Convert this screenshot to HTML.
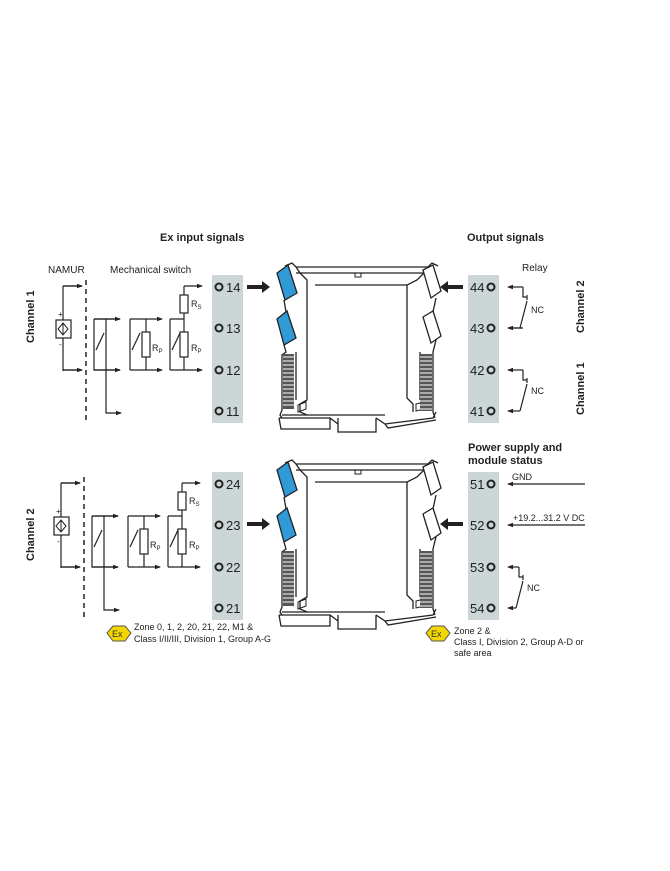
<!DOCTYPE html>
<html><head><meta charset="utf-8"><style>
html,body{margin:0;padding:0;background:#fff}
svg{display:block}
text{font-family:"Liberation Sans",Arial,sans-serif;fill:#222}
</style></head><body>
<svg width="670" height="871" viewBox="0 0 670 871" xmlns="http://www.w3.org/2000/svg">
<defs>
<marker id="a" markerWidth="6" markerHeight="6" refX="5" refY="3" orient="auto" markerUnits="userSpaceOnUse"><path d="M0,0.8 L6,3 L0,5.2z" fill="#222"/></marker>
<g id="mod" fill="none" stroke="#222" stroke-width="1.3">
  <!-- top rail -->
  <path d="M285,266 L292,263 L296,267 L428,267 L432,263 L438,266 M296,273 L428,273 M296,267 L300,273 M428,267 L424,273"/>
  <path d="M355,273 L355,277 L361,277 L361,273" stroke-width="1"/>
  <!-- body walls -->
  <path d="M300,273 L307,280 L307,400 L300,404 L300,412 L307,415 M424,273 L417,280 L407,285 L407,398 L413,404 L413,412"/>
  <path d="M407,285 L315,285"/>
  <!-- outer left -->
  <path d="M284,300 L286,312 M284,345 L286,352 L282,355 L282,410 L280,415 L282,418 M296,352 L296,400"/>
  <!-- outer right -->
  <path d="M436,298 L433,312 M436,340 L433,352 L433,412 L435,418 M420,352 L420,400"/>
  <!-- base -->
  <path d="M282,415 L385,415 M279,418 L330,418 L330,429 L281,429 L279,418 M338,418 L338,432 L376,432 L376,418 M330,418 L338,424 M376,418 L385,424 L433,418 L436,412 M385,424 L388,428 L436,420"/>
  <path d="M298,405 L306,402 L306,409 L298,412z M416,404 L424,402 L424,409 L416,411z" stroke-width="1"/>
  <!-- springs -->
  <rect x="283" y="354" width="11" height="55" fill="#555" stroke="none"/>
  <rect x="420" y="354" width="12" height="57" fill="#555" stroke="none"/>
  <path d="M283,357 h11 M283,361 h11 M283,365 h11 M283,369 h11 M283,373 h11 M283,377 h11 M283,381 h11 M283,385 h11 M283,389 h11 M283,393 h11 M283,397 h11 M283,401 h11 M283,405 h11 M420,357 h12 M420,361 h12 M420,365 h12 M420,369 h12 M420,373 h12 M420,377 h12 M420,381 h12 M420,385 h12 M420,389 h12 M420,393 h12 M420,397 h12 M420,401 h12 M420,405 h12 M420,409 h12" stroke="#ddd" stroke-width="1.2"/>
  <!-- right white tabs -->
  <path d="M423,270 L433,265 L441,291 L431,298 Z M423,317 L433,311 L441,336 L431,343 Z" fill="#fff"/>
  <!-- blue tabs -->
  <path d="M277,273 L288,265 L297,293 L285,300 Z M277,319 L287,311 L296,338 L284,345 Z" fill="#2f9ad6"/>
</g>
<g id="term" font-size="13">
  <rect x="212" y="275" width="31" height="148" fill="#cdd6d6"/>
  <circle cx="219" cy="287" r="3.5" fill="none" stroke="#222" stroke-width="2"/>
  <circle cx="219" cy="328" r="3.5" fill="none" stroke="#222" stroke-width="2"/>
  <circle cx="219" cy="370" r="3.5" fill="none" stroke="#222" stroke-width="2"/>
  <circle cx="219" cy="411" r="3.5" fill="none" stroke="#222" stroke-width="2"/>
  <rect x="468" y="275" width="31" height="148" fill="#cdd6d6"/>
  <circle cx="491" cy="287" r="3.5" fill="none" stroke="#222" stroke-width="2"/>
  <circle cx="491" cy="328" r="3.5" fill="none" stroke="#222" stroke-width="2"/>
  <circle cx="491" cy="370" r="3.5" fill="none" stroke="#222" stroke-width="2"/>
  <circle cx="491" cy="411" r="3.5" fill="none" stroke="#222" stroke-width="2"/>
</g>
<g id="inp" fill="none" stroke="#222" stroke-width="1.2">
  <path d="M63,286 L63,371 M63,286 L82,286 M63,370 L82,370" />
  <path d="M63,286 L82,286" marker-end="url(#a)"/>
  <path d="M63,370 L82,370" marker-end="url(#a)"/>
  <rect x="56" y="320" width="15" height="18" fill="#fff"/>
  <path d="M63,323 L68,329 L63,335 L58,329Z M63,323 L63,335" stroke-width="1"/>
  <path d="M86,280 L86,420" stroke-dasharray="5,4" stroke-width="1.5"/>
  <!-- switch 1 -->
  <path d="M94,319 L94,370 L120,370 M94,319 L120,319 M106,319 L106,413 L121,413" marker-end="url(#a)"/>
  <path d="M94,319 L120,319" marker-end="url(#a)"/>
  <path d="M94,370 L120,370" marker-end="url(#a)"/>
  <path d="M96,350 L104,333"/>
  <!-- switch 2 -->
  <path d="M130,319 L130,370 M146,319 L146,370 M130,319 L162,319" marker-end="url(#a)"/>
  <path d="M130,370 L162,370" marker-end="url(#a)"/>
  <path d="M132,350 L140,333"/>
  <rect x="142" y="332" width="8" height="25" fill="#fff"/>
  <!-- switch 3 -->
  <path d="M170,319 L170,370 M184,286 L184,370 M170,319 L184,319"/>
  <path d="M184,286 L202,286" marker-end="url(#a)"/>
  <path d="M170,370 L202,370" marker-end="url(#a)"/>
  <path d="M172,350 L180,333"/>
  <rect x="180" y="295" width="8" height="18" fill="#fff"/>
  <rect x="180" y="332" width="8" height="25" fill="#fff"/>
</g>
<g id="inpt" font-size="9">
  <text x="58" y="317" font-size="8">+</text>
  <text x="59" y="347" font-size="8">-</text>
  <text x="152" y="351">R<tspan font-size="6" dy="2">P</tspan></text>
  <text x="191" y="351">R<tspan font-size="6" dy="2">P</tspan></text>
  <text x="191" y="307">R<tspan font-size="6" dy="2">S</tspan></text>
</g>
</defs>

<text x="160" y="241" font-size="11" font-weight="bold">Ex input signals</text>
<text x="467" y="241" font-size="11" font-weight="bold">Output signals</text>
<text x="48" y="273" font-size="10">NAMUR</text>
<text x="110" y="273" font-size="10">Mechanical switch</text>
<text x="522" y="271" font-size="10">Relay</text>

<use href="#mod"/>
<use href="#mod" transform="translate(0,197)"/>
<use href="#term"/>
<use href="#term" transform="translate(0,197)"/>
<use href="#inp"/>
<use href="#inp" transform="translate(-2,197)"/>
<use href="#inpt"/>
<use href="#inpt" transform="translate(-2,197)"/>

<g font-size="13">
<text x="226" y="292">14</text><text x="226" y="333">13</text><text x="226" y="375">12</text><text x="226" y="416">11</text>
<text x="226" y="489">24</text><text x="226" y="530">23</text><text x="226" y="572">22</text><text x="226" y="613">21</text>
<text x="470" y="292">44</text><text x="470" y="333">43</text><text x="470" y="375">42</text><text x="470" y="416">41</text>
<text x="470" y="489">51</text><text x="470" y="530">52</text><text x="470" y="572">53</text><text x="470" y="613">54</text>
</g>

<!-- thick arrows -->
<g fill="#222">
<path d="M247,285 L262,285 L262,281 L270,287 L262,293 L262,289 L247,289z"/>
<path d="M247,522 L262,522 L262,518 L270,524 L262,530 L262,526 L247,526z"/>
<path d="M463,285 L448,285 L448,281 L440,287 L448,293 L448,289 L463,289z"/>
<path d="M463,522 L448,522 L448,518 L440,524 L448,530 L448,526 L463,526z"/>
</g>

<!-- relays -->
<g fill="none" stroke="#222" stroke-width="1.2">
<path d="M523,287 L523,297 L527,297 M527,295 L527,300 M527,301 L520,328 L523,328 L508,328" />
<path d="M523,287 L508,287" marker-end="url(#a)"/>
<path d="M522,328 L508,328" marker-end="url(#a)"/>
<path d="M523,370 L523,380 L527,380 M527,378 L527,383 M527,384 L520,411" />
<path d="M523,370 L508,370" marker-end="url(#a)"/>
<path d="M520,411 L508,411" marker-end="url(#a)"/>
<path d="M519,567 L519,577 L523,577 M523,575 L523,580 M523,581 L516,608" />
<path d="M519,567 L508,567" marker-end="url(#a)"/>
<path d="M516,608 L508,608" marker-end="url(#a)"/>
<path d="M585,484 L508,484" marker-end="url(#a)"/>
<path d="M585,525 L508,525" marker-end="url(#a)"/>
</g>
<g font-size="9">
<text x="531" y="313">NC</text>
<text x="531" y="394">NC</text>
<text x="527" y="591">NC</text>
<text x="512" y="480">GND</text>
<text x="513" y="521">+19.2...31.2 V DC</text>
</g>
<text x="468" y="451" font-size="11" font-weight="bold">Power supply and</text>
<text x="468" y="464" font-size="11" font-weight="bold">module status</text>

<g font-size="11" font-weight="bold">
<text transform="translate(34,343) rotate(-90)">Channel 1</text>
<text transform="translate(34,561) rotate(-90)">Channel 2</text>
<text transform="translate(584,333) rotate(-90)">Channel 2</text>
<text transform="translate(584,415) rotate(-90)">Channel 1</text>
</g>

<!-- Ex symbols -->
<g>
<path d="M113,626 L125,626 L131,633 L125,641 L113,641 L107,633Z" fill="#f2d600" stroke="#555"/>
<text x="112" y="637" font-size="9" style="fill:#333">Ex</text>
<text x="134" y="630" font-size="9">Zone 0, 1, 2, 20, 21, 22, M1 &amp;</text>
<text x="134" y="642" font-size="9">Class I/II/III, Division 1, Group A-G</text>
<path d="M432,626 L444,626 L450,633 L444,641 L432,641 L426,633Z" fill="#f2d600" stroke="#555"/>
<text x="431" y="637" font-size="9" style="fill:#333">Ex</text>
<text x="454" y="634" font-size="9">Zone 2 &amp;</text>
<text x="454" y="645" font-size="9">Class I, Division 2, Group A-D or</text>
<text x="454" y="656" font-size="9">safe area</text>
</g>
</svg>
</body></html>
